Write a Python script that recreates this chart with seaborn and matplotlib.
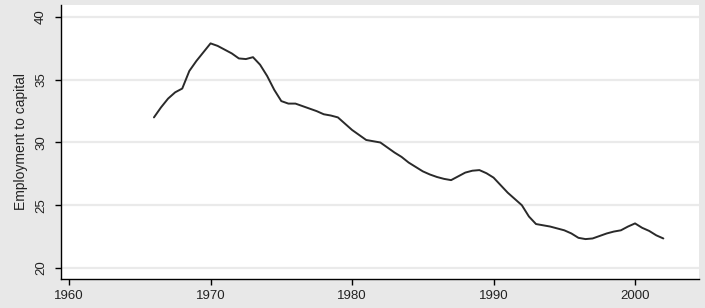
import matplotlib
matplotlib.use("Agg")
import matplotlib.pyplot as plt
import seaborn as sns
import pandas as pd

years = [1966.0, 1966.5, 1967.0, 1967.5, 1968.0, 1968.5, 1969.0, 1969.5, 1970.0, 1970.5,
         1971.0, 1971.5, 1972.0, 1972.5, 1973.0, 1973.5, 1974.0, 1974.5, 1975.0, 1975.5,
         1976.0, 1976.5, 1977.0, 1977.5, 1978.0, 1978.5, 1979.0, 1979.5, 1980.0, 1980.5,
         1981.0, 1981.5, 1982.0, 1982.5, 1983.0, 1983.5, 1984.0, 1984.5, 1985.0, 1985.5,
         1986.0, 1986.5, 1987.0, 1987.5, 1988.0, 1988.5, 1989.0, 1989.5, 1990.0, 1990.5,
         1991.0, 1991.5, 1992.0, 1992.5, 1993.0, 1993.5, 1994.0, 1994.5, 1995.0, 1995.5,
         1996.0, 1996.5, 1997.0, 1997.5, 1998.0, 1998.5, 1999.0, 1999.5, 2000.0, 2000.5,
         2001.0, 2001.5, 2002.0]
emp_to_capital = [32.0, 32.8, 33.5, 34.0, 34.3, 35.7, 36.5, 37.2, 37.9, 37.7,
                  37.4, 37.1, 36.7, 36.65, 36.8, 36.2, 35.3, 34.2, 33.3, 33.1,
                  33.1, 32.9, 32.7, 32.5, 32.25, 32.15, 32.0, 31.5, 31.0, 30.6,
                  30.2, 30.1, 30.0, 29.6, 29.2, 28.85, 28.4, 28.05, 27.7, 27.45,
                  27.25, 27.1, 27.0, 27.3, 27.6, 27.75, 27.8, 27.55, 27.2, 26.6,
                  26.0, 25.5, 25.0, 24.1, 23.5, 23.4, 23.3, 23.15, 23.0, 22.75,
                  22.4, 22.3, 22.35, 22.55, 22.75, 22.9, 23.0, 23.3, 23.55, 23.2,
                  22.95, 22.6, 22.35]
x_ticks = [1960, 1970, 1980, 1990, 2000]
y_ticks = [20, 25, 30, 35, 40]

df = pd.DataFrame({"year": years, "value": emp_to_capital})

sns.set_theme(style="white")
plt.rcParams["font.family"] = ["Liberation Sans", "DejaVu Sans"]

fig = plt.figure(figsize=(7.05, 3.08), dpi=100)
fig.patch.set_facecolor("#e8e8e8")
ax = fig.add_axes([0.0865, 0.0942, 0.905, 0.8896])
ax.set_facecolor("white")

for yt in y_ticks:
    ax.axhline(yt, color="#eaeaea", lw=1.6, zorder=0)

sns.lineplot(data=df, x="year", y="value", ax=ax, color="#2a2a2a", lw=1.4)

ax.set_xlim(1959.43, 2004.52)
ax.set_ylim(19.12, 40.96)
ax.set_xticks(x_ticks)
ax.set_yticks(y_ticks)
ax.set_xticklabels([str(t) for t in x_ticks], fontsize=9.5)
ax.set_yticklabels([str(t) for t in y_ticks], fontsize=9.5, rotation=90, va="center")
ax.set_xlabel("")
ax.set_ylabel("Employment to capital", fontsize=10, color="#222222", labelpad=5)
ax.tick_params(axis="x", pad=4)
ax.tick_params(axis="y", pad=6)
ax.tick_params(axis="both", direction="out", length=4, width=1, color="black",
               bottom=True, left=True, labelcolor="#222222")
for s in ["top", "right"]:
    ax.spines[s].set_visible(False)
for s in ["left", "bottom"]:
    ax.spines[s].set_color("black")
    ax.spines[s].set_linewidth(1.0)

fig.savefig("out.png", dpi=100, facecolor=fig.get_facecolor())
